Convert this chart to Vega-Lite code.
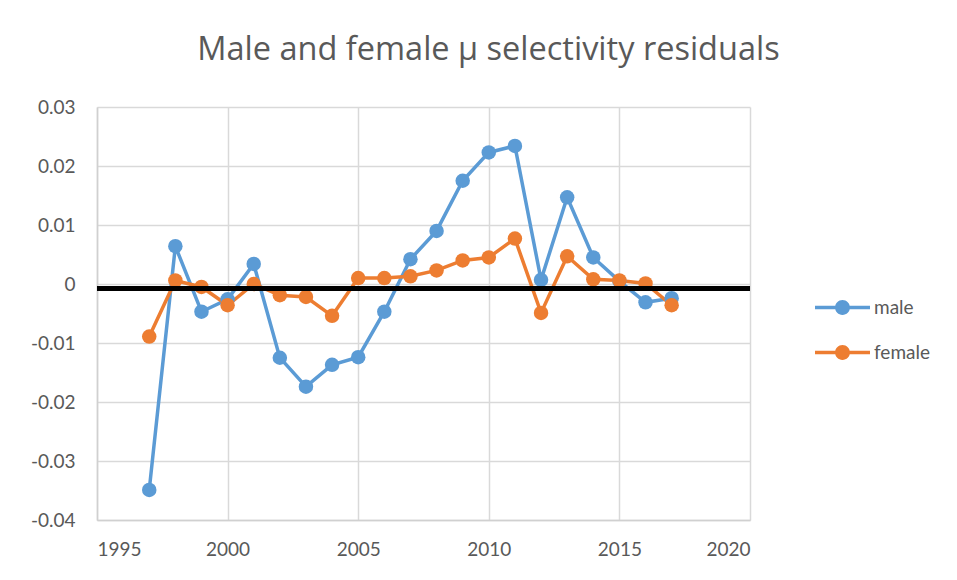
{
  "$schema": "https://vega.github.io/schema/vega-lite/v6.json",
  "width": 653,
  "height": 413,
  "autosize": "none",
  "padding": {"left": 97, "top": 107, "right": 207, "bottom": 60},
  "background": "white",
  "title": {
    "text": "Male and female μ selectivity residuals",
    "anchor": "middle",
    "frame": "group",
    "dx": 65,
    "offset": 32,
    "font": "Open Sans",
    "fontSize": 32.5,
    "fontWeight": "normal",
    "color": "#595959"
  },
  "config": {
    "view": {"stroke": null},
    "axis": {
      "labelFont": "Lato",
      "labelFontSize": 19,
      "labelColor": "#595959",
      "gridColor": "#d9d9d9",
      "gridWidth": 1.5,
      "domainColor": "#d0d0d0",
      "domainWidth": 1.5,
      "ticks": false,
      "title": null
    },
    "legend": {
      "labelFont": "Lato",
      "labelFontSize": 19,
      "labelColor": "#595959"
    }
  },
  "data": {
    "values": [
      {"year": 1997, "series": "male", "value": -0.0349},
      {"year": 1998, "series": "male", "value": 0.0064},
      {"year": 1999, "series": "male", "value": -0.0047},
      {"year": 2000, "series": "male", "value": -0.0026},
      {"year": 2001, "series": "male", "value": 0.0034},
      {"year": 2002, "series": "male", "value": -0.0125},
      {"year": 2003, "series": "male", "value": -0.0174},
      {"year": 2004, "series": "male", "value": -0.0137},
      {"year": 2005, "series": "male", "value": -0.0124},
      {"year": 2006, "series": "male", "value": -0.0047},
      {"year": 2007, "series": "male", "value": 0.0042},
      {"year": 2008, "series": "male", "value": 0.0090},
      {"year": 2009, "series": "male", "value": 0.0175},
      {"year": 2010, "series": "male", "value": 0.0223},
      {"year": 2011, "series": "male", "value": 0.0234},
      {"year": 2012, "series": "male", "value": 0.0007},
      {"year": 2013, "series": "male", "value": 0.0147},
      {"year": 2014, "series": "male", "value": 0.0045},
      {"year": 2015, "series": "male", "value": 0.0005},
      {"year": 2016, "series": "male", "value": -0.0031},
      {"year": 2017, "series": "male", "value": -0.0024},
      {"year": 1997, "series": "female", "value": -0.0089},
      {"year": 1998, "series": "female", "value": 0.0006},
      {"year": 1999, "series": "female", "value": -0.0005},
      {"year": 2000, "series": "female", "value": -0.0036},
      {"year": 2001, "series": "female", "value": 0.0000},
      {"year": 2002, "series": "female", "value": -0.0019},
      {"year": 2003, "series": "female", "value": -0.0022},
      {"year": 2004, "series": "female", "value": -0.0054},
      {"year": 2005, "series": "female", "value": 0.0010},
      {"year": 2006, "series": "female", "value": 0.0010},
      {"year": 2007, "series": "female", "value": 0.0013},
      {"year": 2008, "series": "female", "value": 0.0023},
      {"year": 2009, "series": "female", "value": 0.0040},
      {"year": 2010, "series": "female", "value": 0.0045},
      {"year": 2011, "series": "female", "value": 0.0077},
      {"year": 2012, "series": "female", "value": -0.0049},
      {"year": 2013, "series": "female", "value": 0.0047},
      {"year": 2014, "series": "female", "value": 0.0008},
      {"year": 2015, "series": "female", "value": 0.0006},
      {"year": 2016, "series": "female", "value": 0.0001},
      {"year": 2017, "series": "female", "value": -0.0036}
    ]
  },
  "encoding": {
    "x": {
      "field": "year",
      "type": "quantitative",
      "scale": {"domain": [1995, 2020], "nice": false, "zero": false},
      "axis": {"values": [1995, 2000, 2005, 2010, 2015, 2020], "format": "d", "labelPadding": 20}
    },
    "y": {
      "field": "value",
      "type": "quantitative",
      "scale": {"domain": [-0.04, 0.03], "nice": false, "zero": false},
      "axis": {
        "values": [-0.04, -0.03, -0.02, -0.01, 0, 0.01, 0.02, 0.03],
        "labelExpr": "replace(format(datum.value, '.2~f'), '−', '-')",
        "labelPadding": 22,
        "domain": true
      }
    }
  },
  "layer": [
    {
      "mark": {"type": "line", "strokeWidth": 3.5},
      "encoding": {
        "color": {"field": "series", "type": "nominal", "scale": {"domain": ["male", "female"], "range": ["#5B9BD5", "#ED7D31"]}}
      }
    },
    {
      "mark": {"type": "point", "filled": true, "size": 210, "opacity": 1, "shape": "circle"},
      "encoding": {
        "color": {
          "field": "series",
          "type": "nominal",
          "scale": {"domain": ["male", "female"], "range": ["#5B9BD5", "#ED7D31"]},
          "legend": {
            "title": null,
            "orient": "none",
            "legendX": 718,
            "legendY": 173,
            "symbolType": "M-1,-0.06 L-0.25,-0.06 L-0.25,0.06 L-1,0.06 Z M0.25,-0.06 L1,-0.06 L1,0.06 L0.25,0.06 Z M0.27,0 A0.27,0.27 0 1 1 -0.27,0 A0.27,0.27 0 1 1 0.27,0 Z",
            "symbolSize": 3025,
            "symbolStrokeWidth": 0,
            "symbolOpacity": 1,
            "rowPadding": 7,
            "labelOffset": 4
          }
        }
      }
    },
    {
      "mark": {"type": "rule", "color": "black", "strokeWidth": 4},
      "encoding": {"y": {"datum": -0.0007}, "x": null}
    }
  ]
}
